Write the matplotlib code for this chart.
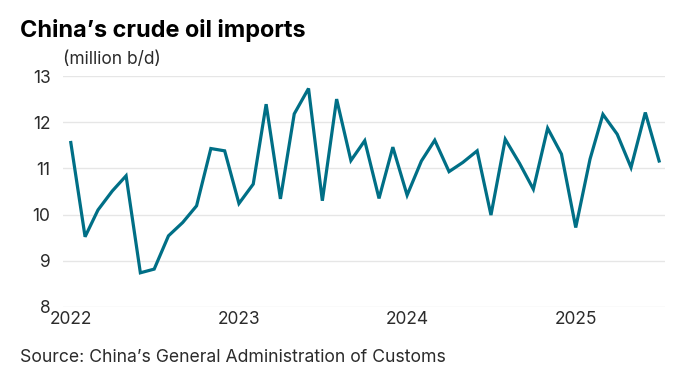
import numpy as np
import pandas as pd
import matplotlib
matplotlib.use("Agg")
import matplotlib.pyplot as plt

# China's crude oil imports, million barrels per day, Jan 2022 - Jul 2025
months = pd.date_range("2022-01-01", "2025-07-01", freq="MS")
imports = [
    11.56, 9.52, 10.10, 10.51, 10.84, 8.74, 8.82, 9.54, 9.83, 10.19, 11.43, 11.38,   # 2022
    10.24, 10.66, 12.39, 10.34, 12.18, 12.73, 10.30, 12.50, 11.17, 11.60, 10.35, 11.46,  # 2023
    10.42, 11.16, 11.61, 10.93, 11.13, 11.38, 9.99, 11.63, 11.11, 10.55, 11.87, 11.31,  # 2024
    9.72, 11.20, 12.17, 11.74, 11.02, 12.21, 11.16,  # 2025
]
year_ticks = ["2022", "2023", "2024", "2025"]
y_ticks = [8, 9, 10, 11, 12, 13]

plt.rcParams['font.family'] = ['Inter', 'DejaVu Sans']
text_col = '#2b2b2b'

fig = plt.figure(figsize=(6.95, 3.86), dpi=100)
ax = fig.add_axes([0.0906, 0.2047, 0.8664, 0.5984])

ax.plot(months, imports, color='#006f86', lw=2.3, solid_joinstyle='miter')

ax.set_ylim(8, 13)
ax.set_yticks(y_ticks)
ax.set_xlim(pd.Timestamp("2021-12-15"), pd.Timestamp("2025-07-14"))
ax.set_xticks([pd.Timestamp(f"{y}-01-01") for y in year_ticks])
ax.set_xticklabels(year_ticks)

ax.grid(axis='y', color='#e6e6e6', lw=1)
ax.set_axisbelow(True)
for s in ax.spines.values():
    s.set_visible(False)
ax.tick_params(axis='both', length=0, labelsize=12.5, labelcolor=text_col)
ax.tick_params(axis='y', pad=9)
ax.tick_params(axis='x', pad=3)

fig.text(20 / 695, 1 - 30 / 386, "China’s crude oil imports", fontsize=16.9,
         fontweight='bold', color='black', va='center', ha='left')
fig.text(63 / 695, 1 - 60 / 386, "(million b/d)", fontsize=12.5,
         color=text_col, va='center', ha='left')
fig.text(20 / 695, 1 - 357 / 386, "Source: China’s General Administration of Customs",
         fontsize=12.7, color=text_col, va='center', ha='left')

fig.savefig("out.png", dpi=100)
